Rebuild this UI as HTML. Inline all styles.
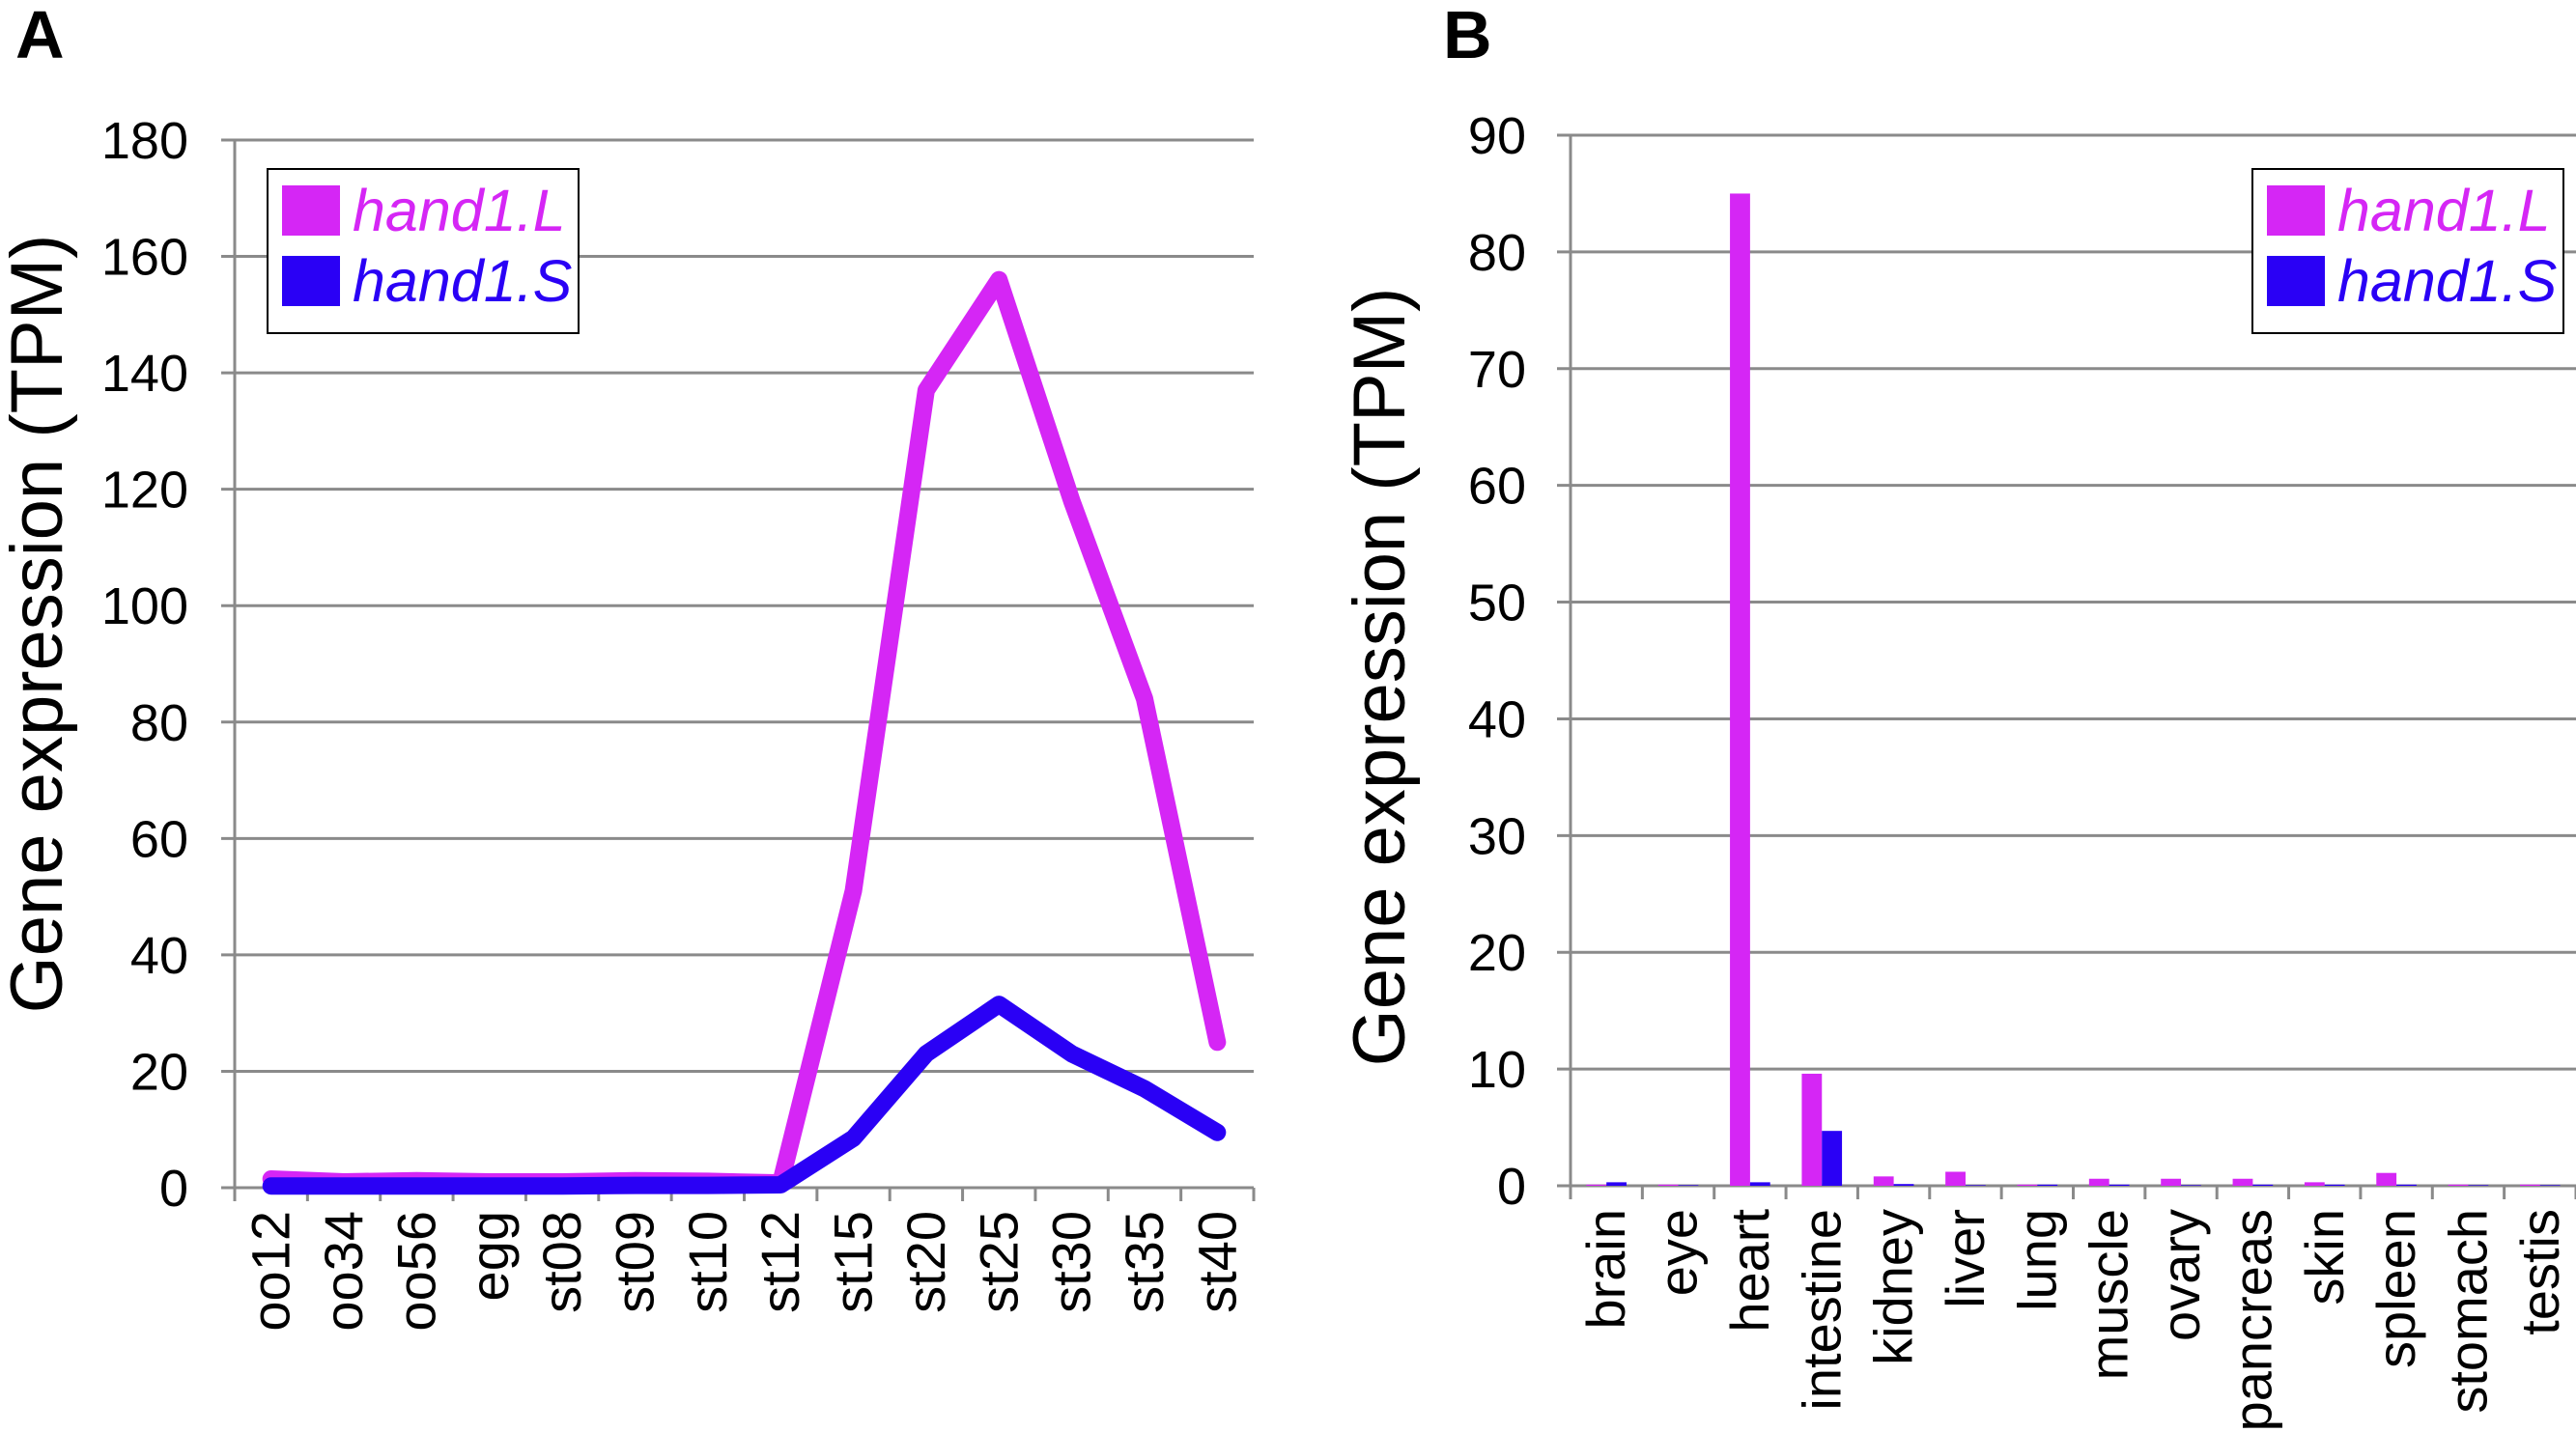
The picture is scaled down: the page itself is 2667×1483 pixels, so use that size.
<!DOCTYPE html>
<html><head><meta charset="utf-8"><style>
html,body{margin:0;padding:0;background:#fff}
svg{display:block;font-family:"Liberation Sans",Arial,sans-serif}
</style></head><body>
<svg id="chart" width="2667" height="1483" viewBox="0 0 2667 1483" xmlns="http://www.w3.org/2000/svg">
<text x="16" y="60" font-size="70" font-weight="bold">A</text>
<text x="1494" y="60" font-size="70" font-weight="bold">B</text>
<g id="pa"></g>
<g id="pb"></g>
</svg>
<script>
const stages = ["oo12","oo34","oo56","egg","st08","st09","st10","st12","st15","st20","st25","st30","st35","st40"];
const lineL = [1.5,1,1.2,1,1,1.2,1.1,0.8,51,137,156,118,84,25];
const lineS = [0.3,0.3,0.3,0.3,0.3,0.4,0.4,0.5,8.5,23,31.5,23,17,9.5];
const ticksA = [0,20,40,60,80,100,120,140,160,180];
const tissues = ["brain","eye","heart","intestine","kidney","liver","lung","muscle","ovary","pancreas","skin","spleen","stomach","testis"];
const barL = [0.1,0.1,85,9.6,0.8,1.2,0.1,0.6,0.6,0.6,0.3,1.1,0.1,0.1];
const barS = [0.3,0.05,0.3,4.7,0.15,0.05,0.1,0.1,0.05,0.1,0.1,0.1,0.05,0.05];
const ticksB = [0,10,20,30,40,50,60,70,80,90];
const MAG="#d526f5", BLU="#2a00f5", GRID="#8a8a8a";
const NS="http://www.w3.org/2000/svg";
function mk(p,t,a){const e=document.createElementNS(NS,t);for(const k in a)e.setAttribute(k,a[k]);p.appendChild(e);return e;}

function axes(g,x0,x1,yTop,yBot,ticks,cats,labelX,titleX,titleY){
  const max=ticks[ticks.length-1];
  const ys=v=>yBot-(v/max)*(yBot-yTop);
  ticks.forEach(t=>{
    const l=mk(g,"line",{x1:x0-14,x2:x1,y1:ys(t),y2:ys(t),stroke:GRID,"stroke-width":3});
    
    
    const tx=mk(g,"text",{x:labelX,y:ys(t)+19,"font-size":54,"text-anchor":"end"});
    tx.textContent=t;
    
    
  });
  const ax=mk(g,"line",{x1:x0,x2:x0,y1:yTop,y2:yBot+14,stroke:GRID,"stroke-width":3});
  
  
  const bw=(x1-x0)/cats.length;
  for(let i=0;i<=cats.length;i++){
    const tk=mk(g,"line",{x1:x0+i*bw,x2:x0+i*bw,y1:yBot,y2:yBot+14,stroke:GRID,"stroke-width":3});
    
    
  }
  cats.forEach((c,i)=>{
    const cx=x0+(i+0.5)*bw+19, cy=yBot+24;
    const tx=mk(g,"text",{x:cx,y:cy,"font-size":56,"text-anchor":"end",transform:`rotate(-90 ${cx} ${cy})`});
    tx.textContent=c;
    
    
  });
  const tt=mk(g,"text",{x:titleX,y:titleY,"font-size":76,"text-anchor":"middle",transform:`rotate(-90 ${titleX} ${titleY})`});
  tt.textContent="Gene expression (TPM)";
  
  
  return {ys,bw};
}
function legend(g,x,y){
  const b=mk(g,"rect",{x:x,y:y,width:322,height:170,fill:"#fff",stroke:"#000","stroke-width":2});
  
  
  [[MAG,"hand1.L"],[BLU,"hand1.S"]].forEach((d,i)=>{
    const r=mk(g,"rect",{x:x+15,y:y+17+i*73,width:60,height:52,fill:d[0]});
    
    
    const t=mk(g,"text",{x:x+88,y:y+64+i*73,"font-size":61,"font-style":"italic",fill:d[0]});
    t.textContent=d[1];
    
    
  });
}
// Panel A
(function(){
  const g=document.getElementById("pa");
  const x0=243,x1=1298,yT=145,yB=1230;
  const {ys,bw}=axes(g,x0,x1,yT,yB,ticksA,stages,195,64,646);
  [[lineL,MAG,'line-hand1-L'],[lineS,BLU,'line-hand1-S']].forEach(s=>{
    const pts=s[0].map((v,i)=>(x0+(i+0.5)*bw)+","+ys(v)).join(" ");
    const p=mk(g,"polyline",{points:pts,fill:"none",stroke:s[1],"stroke-width":18,"stroke-linejoin":"round","stroke-linecap":"round"});
    
    
  });
  legend(g,277,175);
})();
// Panel B
(function(){
  const g=document.getElementById("pb");
  const x0=1626,x1=2667,yT=140,yB=1228;
  const {ys,bw}=axes(g,x0,x1,yT,yB,ticksB,tissues,1580,1454,701);
  const w=bw*0.28, off=bw*0.22;
  tissues.forEach((c,i)=>{
    const xl=x0+i*bw+off;
    const r1=mk(g,"rect",{x:xl,y:ys(barL[i]),width:w,height:yB-ys(barL[i]),fill:MAG});
    
    
    const r2=mk(g,"rect",{x:xl+w,y:ys(barS[i]),width:w,height:yB-ys(barS[i]),fill:BLU});
    
    
  });
  legend(g,2332,175);
})();
</script>
</body></html>
